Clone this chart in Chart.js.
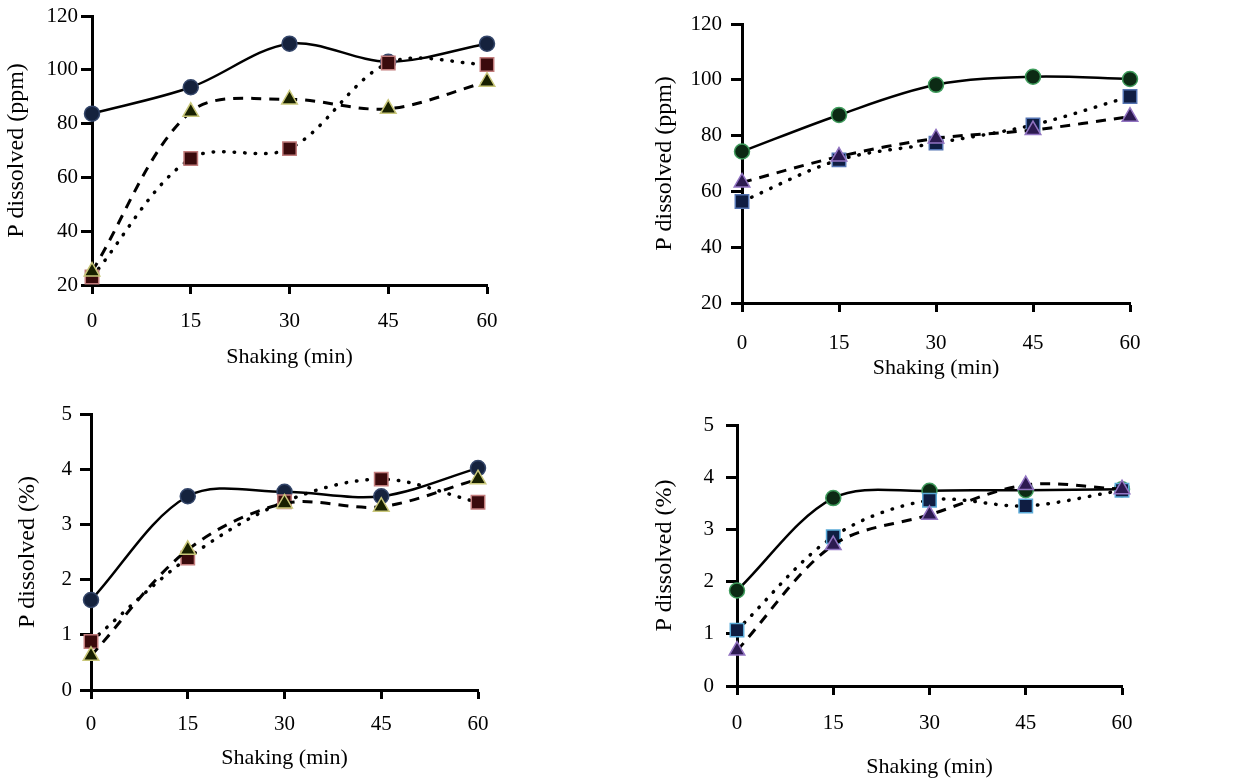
<!DOCTYPE html>
<html>
<head>
<meta charset="utf-8">
<script src="https://cdn.jsdelivr.net/npm/chart.js@4/dist/chart.umd.min.js"></script>
<style>
  html, body { margin: 0; padding: 0; background: #fff; }
  body { width: 1249px; height: 782px; position: relative; overflow: hidden; }
  .panel { position: absolute; }
</style>
</head>
<body>
<div class="panel" style="left:0;top:0"><canvas id="ppmA" width="620" height="390"></canvas></div>
<div class="panel" style="left:620px;top:0"><canvas id="ppmB" width="629" height="390"></canvas></div>
<div class="panel" style="left:0;top:390px"><canvas id="pctA" width="620" height="392"></canvas></div>
<div class="panel" style="left:620px;top:390px"><canvas id="pctB" width="629" height="392"></canvas></div>
<script>
const minutes = [0, 15, 30, 45, 60];

// top left, P dissolved (ppm)
const ppmA_circle   = [83.7, 93.5, 109.7, 103, 109.7];
const ppmA_triangle = [25, 84.4, 89, 85.5, 95.6];
const ppmA_square   = [23, 67, 70.7, 102.5, 102];

// top right, P dissolved (ppm)
const ppmB_circle   = [74.3, 87.4, 98.2, 101.1, 100.3];
const ppmB_triangle = [63.2, 72.5, 79, 82, 86.8];
const ppmB_square   = [56.4, 71.3, 77.3, 83.8, 94];

// bottom left, P dissolved (%)
const pctA_circle   = [1.63, 3.51, 3.59, 3.51, 4.02];
const pctA_triangle = [0.62, 2.54, 3.38, 3.32, 3.82];
const pctA_square   = [0.88, 2.39, 3.41, 3.82, 3.4];

// bottom right, P dissolved (%)
const pctB_circle   = [1.83, 3.6, 3.74, 3.75, 3.77];
const pctB_triangle = [0.68, 2.7, 3.28, 3.85, 3.77];
const pctB_square   = [1.07, 2.86, 3.56, 3.45, 3.75];

const FONT = "'Liberation Serif', 'Times New Roman', serif";

const toPts = vals => vals.map((v, i) => ({ x: minutes[i], y: v }));

function series(vals, kind, fill, edge) {
  const base = {
    data: toPts(vals),
    borderColor: '#000',
    pointBackgroundColor: fill,
    pointBorderColor: edge,
    pointBorderWidth: 1.5,
    tension: 0.33,
    clip: false,
    fill: false,
  };
  if (kind === 'circle') return { ...base, pointStyle: 'circle', pointRadius: 7.5, borderWidth: 2.5, order: 3 };
  if (kind === 'square') return { ...base, pointStyle: 'rect', pointRadius: 9.5, borderWidth: 3.5,
                                  borderDash: [0.5, 10], borderCapStyle: 'round', order: 2 };
  return { ...base, pointStyle: 'triangle', pointRadius: 9, borderWidth: 3, borderDash: [10, 8], order: 1 };
}

function makeChart(id, o) {
  return new Chart(document.getElementById(id), {
    type: 'line',
    data: { datasets: o.datasets },
    options: {
      responsive: false,
      animation: false,
      layout: { padding: { left: 0, top: o.top, right: o.right, bottom: 0 } },
      plugins: { legend: { display: false }, tooltip: { enabled: false } },
      scales: {
        x: {
          type: 'linear', min: 0, max: 60,
          afterFit: s => { s.height = o.xH; },
          border: { display: true, color: '#000', width: 3 },
          grid: { drawOnChartArea: false, drawTicks: true, tickLength: 9, tickWidth: 3, tickColor: '#000' },
          ticks: { stepSize: 15, color: '#000', padding: o.xPad, font: { family: FONT, size: 21 } },
          title: { display: true, text: 'Shaking (min)', color: '#000',
                   padding: { top: 0, bottom: o.xTitlePad }, font: { family: FONT, size: 22 } }
        },
        y: {
          min: o.yMin, max: o.yMax,
          afterFit: s => { s.width = o.yW; },
          border: { display: true, color: '#000', width: 3 },
          grid: { drawOnChartArea: false, drawTicks: true, tickLength: 11, tickWidth: 3, tickColor: '#000' },
          ticks: { stepSize: o.yStep, color: '#000', padding: o.yPad, font: { family: FONT, size: 21 } },
          title: { display: true, text: o.yTitle, color: '#000',
                   padding: { top: o.yTitlePad, bottom: 0 }, font: { family: FONT, size: 24 } }
        }
      }
    }
  });
}

// dark blue / olive / maroon markers on the left, green / purple / blue on the right
makeChart('ppmA', {
  top: 16, right: 133, xH: 105, yW: 92, xPad: 15, yPad: 3, xTitlePad: 20, yTitlePad: 2,
  yMin: 20, yMax: 120, yStep: 20, yTitle: 'P dissolved (ppm)',
  datasets: [
    series(ppmA_triangle, 'triangle', '#182000', '#c9c77a'),
    series(ppmA_square, 'square', '#3a0a0c', '#c27c7c'),
    series(ppmA_circle, 'circle', '#15223d', '#34466a'),
  ]
});

makeChart('ppmB', {
  top: 24, right: 119, xH: 87, yW: 122, xPad: 19, yPad: 9, xTitlePad: 9, yTitlePad: 30,
  yMin: 20, yMax: 120, yStep: 20, yTitle: 'P dissolved (ppm)',
  datasets: [
    series(ppmB_triangle, 'triangle', '#2c1a50', '#9274c2'),
    series(ppmB_square, 'square', '#0f1d42', '#5474b2'),
    series(ppmB_circle, 'circle', '#0c2a14', '#3f9c5c'),
  ]
});

makeChart('pctA', {
  top: 24, right: 142, xH: 92, yW: 91, xPad: 13, yPad: 8, xTitlePad: 11, yTitlePad: 13,
  yMin: 0, yMax: 5, yStep: 1, yTitle: 'P dissolved (%)',
  datasets: [
    series(pctA_triangle, 'triangle', '#182000', '#c9c77a'),
    series(pctA_square, 'square', '#3a0a0c', '#c27c7c'),
    series(pctA_circle, 'circle', '#15223d', '#34466a'),
  ]
});

makeChart('pctB', {
  top: 35, right: 127, xH: 96, yW: 117, xPad: 16, yPad: 12, xTitlePad: 2, yTitlePad: 30,
  yMin: 0, yMax: 5, yStep: 1, yTitle: 'P dissolved (%)',
  datasets: [
    series(pctB_triangle, 'triangle', '#2c1a50', '#9274c2'),
    series(pctB_square, 'square', '#0f1d42', '#5aaad8'),
    series(pctB_circle, 'circle', '#0c2a14', '#3f9c5c'),
  ]
});
</script>
</body>
</html>
